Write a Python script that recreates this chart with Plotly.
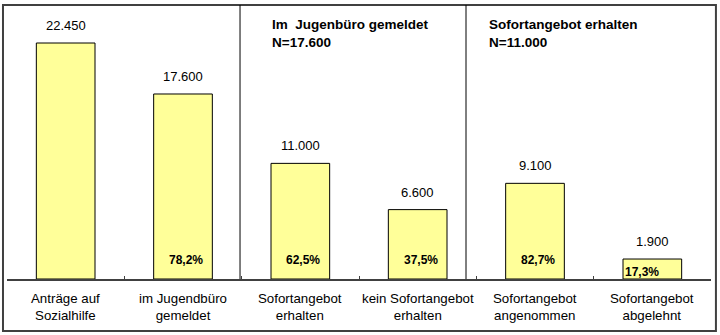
import plotly.graph_objects as go

categories = ["Anträge auf<br>Sozialhilfe", "im Jugendbüro<br>gemeldet", "Sofortangebot<br>erhalten",
              "kein Sofortangebot<br>erhalten", "Sofortangebot<br>angenommen", "Sofortangebot<br>abgelehnt"]
values = [22450, 17600, 11000, 6600, 9100, 1900]
value_labels = ["22.450", "17.600", "11.000", "6.600", "9.100", "1.900"]
pct_labels = [None, "78,2%", "62,5%", "37,5%", "82,7%", "17,3%"]
headers = [("Im\u00a0 Jugenbüro gemeldet", "N=17.600"), ("Sofortangebot erhalten", "N=11.000")]

FONT = "Liberation Sans, Arial, sans-serif"
x = list(range(len(values)))

fig = go.Figure()
fig.add_trace(go.Bar(x=x, y=values, width=0.5, marker=dict(color="#FFFF99", line=dict(color="black", width=1)),
                     hoverinfo="skip"))

ann = []
for i, (v, vl) in enumerate(zip(values, value_labels)):
    ann.append(dict(x=i, y=v, text=vl, showarrow=False, yanchor="bottom", yshift=8,
                    font=dict(family=FONT, size=13, color="black")))
    ann.append(dict(x=i, y=0, yref="y", text=categories[i], showarrow=False, yanchor="middle", yshift=-28,
                    font=dict(family=FONT, size=13.3, color="black")))
for i, p in enumerate(pct_labels):
    if p is None:
        continue
    small = values[i] < 3000
    ann.append(dict(x=i - 0.25 if small else i, y=0, text="<b>%s</b>" % p, showarrow=False,
                    xanchor="left" if small else "center", yanchor="middle",
                    yshift=7 if small else 19, xshift=0 if small else 3,
                    font=dict(family=FONT, size=12, color="black")))

hx = [0.3736, 0.682]
for (h1, h2), px in zip(headers, hx):
    ann.append(dict(x=px, y=0.930, xref="paper", yref="paper", text="<b>%s</b>" % h1, showarrow=False,
                    xanchor="left", yanchor="middle", font=dict(family=FONT, size=13.5, color="black")))
    ann.append(dict(x=px, y=0.862, xref="paper", yref="paper", text="<b>%s</b>" % h2, showarrow=False,
                    xanchor="left", yanchor="middle", font=dict(family=FONT, size=13.5, color="black")))

shapes = [
    dict(type="rect", xref="paper", yref="paper", x0=-0.0057, x1=1.007, y0=-0.19, y1=1.0,
         line=dict(color="#404040", width=2)),
    dict(type="line", xref="paper", yref="paper", x0=0.331, x1=0.331, y0=0, y1=1.0,
         line=dict(color="black", width=1)),
    dict(type="line", xref="paper", yref="paper", x0=0.652, x1=0.652, y0=0, y1=1.0,
         line=dict(color="black", width=1)),
]

fig.update_layout(
    width=720, height=335, margin=dict(l=7, r=9, t=5, b=56),
    plot_bgcolor="white", paper_bgcolor="white", showlegend=False,
    annotations=ann, shapes=shapes,
    xaxis=dict(range=[-0.5, 5.5], tickvals=[k - 0.5 for k in range(7)], ticktext=[""] * 7,
               ticks="inside", ticklen=3, tickcolor="#404040", showline=True, linecolor="#404040",
               linewidth=2, showgrid=False, zeroline=False, fixedrange=True),
    yaxis=dict(range=[0, 26065], visible=False, showgrid=False, zeroline=False, fixedrange=True),
)
fig.write_html("out.html")
